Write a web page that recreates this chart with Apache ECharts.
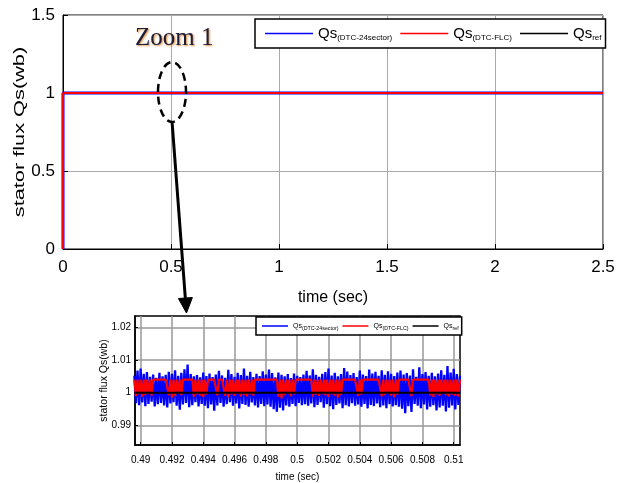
<!DOCTYPE html>
<html>
<head>
<meta charset="utf-8">
<script src="https://cdn.jsdelivr.net/npm/echarts@6/dist/echarts.min.js"></script>
<style>html,body{margin:0;padding:0;background:#fff;}#c{width:627px;height:483px;}</style>
</head>
<body>
<div id="c"></div>
<script>
// ---------- DATA ----------
// Main chart (0 .. 2.5 s)
const mainTime = [0, 0, 2.5];
const mainBlue = [0, 1, 1];
const mainRed  = [0, 1, 1];
const mainRef  = [1, 1, 1];
const mainXTicks = [0, 0.5, 1, 1.5, 2, 2.5];
const mainYTicks = [0, 0.5, 1, 1.5];

// Zoom inset (0.4896 .. 0.5104 s, sampled every 0.0001 s)
const insetStart = 0.4896;
const insetStep = 0.0001;
const insetBlue = [
  1.0052,0.9968,1.0068,0.9962,1.0074,0.9970,1.0058,0.9959,1.0063,0.9966,
  1.0049,0.9973,1.0056,0.9958,1.0046,0.9965,1.0061,0.9969,1.0050,0.9961,
  1.0055,0.9955,1.0064,0.9967,1.0058,0.9971,1.0069,0.9960,1.0052,0.9948,
  1.0061,0.9964,1.0072,0.9969,1.0086,0.9956,1.0057,0.9962,1.0050,0.9971,
  1.0054,0.9958,1.0047,0.9966,1.0062,0.9960,1.0051,0.9953,1.0059,0.9964,
  1.0048,0.9945,1.0056,0.9961,1.0067,0.9969,1.0053,0.9957,1.0046,0.9965,
  1.0070,0.9971,1.0057,0.9960,1.0049,0.9967,1.0061,0.9952,1.0054,0.9966,
  1.0074,0.9963,1.0052,0.9957,1.0064,0.9970,1.0048,0.9961,1.0058,0.9955,
  1.0051,0.9966,1.0066,0.9959,1.0056,0.9964,1.0071,0.9957,1.0060,0.9950,
  1.0047,0.9942,1.0062,0.9954,1.0055,0.9946,1.0050,0.9961,1.0057,0.9957,
  1.0045,0.9966,1.0059,0.9959,1.0052,0.9969,1.0048,0.9962,1.0056,0.9965,
  1.0067,0.9960,1.0053,0.9967,1.0072,0.9956,1.0055,0.9963,1.0049,0.9971,
  1.0058,0.9954,1.0063,0.9965,1.0074,0.9959,1.0053,0.9950,1.0061,0.9963,
  1.0050,0.9967,1.0057,0.9953,1.0076,0.9962,1.0065,0.9958,1.0054,0.9968,
  1.0060,0.9960,1.0048,0.9964,1.0068,0.9957,1.0056,0.9966,1.0051,0.9952,
  1.0071,0.9963,1.0059,0.9959,1.0064,0.9967,1.0052,0.9956,1.0069,0.9961,
  1.0055,0.9953,1.0066,0.9965,1.0058,0.9958,1.0051,0.9962,1.0062,0.9957,
  1.0068,0.9951,1.0056,0.9937,1.0060,0.9959,1.0053,0.9941,1.0072,0.9966,
  1.0049,0.9960,1.0078,0.9953,1.0057,0.9964,1.0063,0.9949,1.0052,0.9957,
  1.0061,0.9962,1.0050,0.9946,1.0059,0.9955,1.0069,0.9960,1.0055,0.9943,
  1.0082,0.9954,1.0062,0.9961,1.0073,0.9949,1.0057,0.9963,1.0052
];
const insetRed = [
  1.0040,0.9990,1.0040,0.9995,1.0040,0.9988,1.0040,0.9993,1.0040,0.9997,1.0040,0.9991,1.0040,
  1.0040,1.0040,1.0040,1.0040,1.0040,1.0040,1.0040,1.0040,1.0040,
  0.9992,1.0040,0.9985,1.0040,0.9990,1.0040,0.9997,1.0040,0.9993,1.0040,
  1.0040,1.0040,1.0040,1.0040,1.0040,1.0040,
  0.9988,1.0040,0.9995,1.0040,0.9991,1.0040,0.9987,1.0040,0.9994,1.0040,
  1.0040,1.0040,1.0040,1.0040,1.0040,
  0.9992,
  1.0040,1.0040,1.0040,1.0040,
  0.9991,1.0040,0.9986,1.0040,0.9994,1.0040,0.9990,1.0040,0.9996,1.0040,
  0.9988,1.0040,0.9993,1.0040,0.9989,1.0040,0.9995,1.0040,0.9991,1.0040,
  1.0040,1.0040,1.0040,1.0040,1.0040,1.0040,1.0040,1.0040,1.0040,1.0040,1.0040,1.0040,1.0040,1.0040,
  0.9988,1.0040,0.9983,1.0040,0.9992,1.0040,0.9996,1.0040,0.9989,1.0040,0.9995,1.0040,
  1.0040,1.0040,1.0040,1.0040,1.0040,1.0040,1.0040,1.0040,1.0040,1.0040,
  0.9988,1.0040,0.9994,1.0040,0.9990,1.0040,0.9996,1.0040,0.9992,1.0040,
  0.9987,1.0040,0.9995,1.0040,0.9991,1.0040,0.9985,1.0040,0.9993,1.0040,
  1.0040,1.0040,1.0040,1.0040,1.0040,1.0040,1.0040,1.0040,1.0040,
  0.9990,1.0040,0.9994,1.0040,
  1.0040,1.0040,1.0040,1.0040,1.0040,1.0040,1.0040,1.0040,1.0040,1.0040,1.0040,
  0.9989,1.0040,0.9993,1.0040,0.9997,1.0040,0.9991,1.0040,0.9986,1.0040,0.9994,1.0040,
  1.0040,1.0040,1.0040,1.0040,1.0040,1.0040,1.0040,
  0.9990,1.0040,
  1.0040,1.0040,1.0040,1.0040,1.0040,1.0040,1.0040,1.0040,1.0040,1.0040,
  0.9992,1.0040,0.9987,1.0040,0.9995,1.0040,0.9991,1.0040,0.9997,1.0040,
  0.9993,1.0040,0.9989,1.0040,0.9994,1.0040,0.9990,1.0040,0.9988,1.0040
];
const insetRefValue = 1;
const insetXTicks = [0.49, 0.492, 0.494, 0.496, 0.498, 0.5, 0.502, 0.504, 0.506, 0.508, 0.51];
const insetYTicks = [0.99, 1, 1.01, 1.02];

const legendNames = ['Qs_24', 'Qs_FLC', 'Qs_ref'];
const legendSubs = { 'Qs_24': '(DTC-24sector)', 'Qs_FLC': '(DTC-FLC)', 'Qs_ref': 'ref' };
const insetLegendNames = ['iQs_24', 'iQs_FLC', 'iQs_ref'];

// ---------- BUILD ----------
const insetTime = insetBlue.map((_, i) => +(insetStart + i * insetStep).toFixed(4));
const zip = (xs, ys) => xs.map((x, i) => [x, ys[i]]);
const FONT = '"Liberation Sans", Arial, sans-serif';

const chart = echarts.init(document.getElementById('c'), null, { renderer: 'canvas' });

function legendFmt(name) {
  const key = name.replace(/^i/, '');
  return '{m|Qs}{s|' + legendSubs[key] + '}';
}

const option = {
  animation: false,
  backgroundColor: '#fff',
  grid: [
    { left: 63, top: 15, width: 540, height: 234, show: true, borderColor: '#000', borderWidth: 1, backgroundColor: 'transparent' },
    { left: 135, top: 316, width: 325, height: 133, show: true, borderColor: '#000', borderWidth: 1.5, backgroundColor: 'transparent' }
  ],
  xAxis: [
    {
      gridIndex: 0, type: 'value', min: 0, max: 2.5, interval: 0.5,
      name: 'time (sec)', nameLocation: 'middle', nameGap: 41, nameMoveOverlap: false,
      nameTextStyle: { fontFamily: FONT, fontSize: 16, color: '#000' },
      axisLine: { show: true, onZero: false, lineStyle: { color: '#000', width: 1 } },
      axisTick: { show: true, inside: true, length: 5, lineStyle: { color: '#000' } },
      axisLabel: { fontFamily: FONT, fontSize: 17, color: '#000', margin: 10, customValues: mainXTicks },
      splitLine: { show: true, lineStyle: { color: '#aaa', width: 1 } }
    },
    {
      gridIndex: 1, type: 'value', min: 0.48964, max: 0.5104,
      name: 'time (sec)', nameLocation: 'middle', nameGap: 27, nameMoveOverlap: false,
      nameTextStyle: { fontFamily: FONT, fontSize: 10, color: '#000' },
      axisLine: { show: true, onZero: false, lineStyle: { color: '#000', width: 1.5 } },
      axisTick: { show: true, inside: true, length: 3, customValues: insetXTicks, lineStyle: { color: '#000' } },
      axisLabel: { fontFamily: FONT, fontSize: 10, color: '#000', margin: 10, customValues: insetXTicks },
      splitLine: { show: true, lineStyle: { color: '#999', width: 1.5 } }
    }
  ],
  yAxis: [
    {
      gridIndex: 0, type: 'value', min: 0, max: 1.5, interval: 0.5,
      axisLine: { show: true, onZero: false, lineStyle: { color: '#000', width: 1 } },
      axisTick: { show: true, inside: true, length: 5, lineStyle: { color: '#000' } },
      axisLabel: { fontFamily: FONT, fontSize: 17, color: '#000', margin: 8, customValues: mainYTicks },
      splitLine: { show: true, lineStyle: { color: '#aaa', width: 1 } }
    },
    {
      gridIndex: 1, type: 'value', min: 0.984, max: 1.0235,
      name: 'stator flux Qs(wb)', nameLocation: 'middle', nameGap: 25, nameMoveOverlap: false,
      nameTextStyle: { fontFamily: FONT, fontSize: 10.5, color: '#000' },
      axisLine: { show: true, onZero: false, lineStyle: { color: '#000', width: 1.5 } },
      axisTick: { show: true, inside: true, length: 3, customValues: insetYTicks, lineStyle: { color: '#000' } },
      axisLabel: { fontFamily: FONT, fontSize: 10, color: '#000', margin: 4, customValues: insetYTicks },
      splitLine: { show: true, lineStyle: { color: '#999', width: 1.5 } }
    }
  ],
  legend: [
    {
      data: legendNames, left: 255, top: 19, orient: 'horizontal',
      backgroundColor: '#fff', borderColor: '#000', borderWidth: 1.5, borderRadius: 0,
      padding: [6, 4, 6, 10], itemGap: 8, itemWidth: 48, itemHeight: 1.5, icon: 'rect',
      formatter: legendFmt,
      textStyle: {
        color: '#000', fontFamily: FONT,
        rich: {
          m: { fontSize: 15, fontFamily: FONT, color: '#000', lineHeight: 20 },
          s: { fontSize: 8, fontFamily: FONT, color: '#000', padding: [9, 0, 0, 0], lineHeight: 20 }
        }
      }
    },
    {
      data: insetLegendNames, left: 256, top: 317, orient: 'horizontal',
      backgroundColor: '#fff', borderColor: '#000', borderWidth: 1.5, borderRadius: 0,
      padding: [4, 3, 4, 6], itemGap: 4, itemWidth: 26, itemHeight: 1.5, icon: 'rect',
      formatter: legendFmt,
      textStyle: {
        color: '#000', fontFamily: FONT,
        rich: {
          m: { fontSize: 7, fontFamily: FONT, color: '#000', lineHeight: 13 },
          s: { fontSize: 5.3, fontFamily: FONT, color: '#000', padding: [5, 0, 0, 0], lineHeight: 13 }
        }
      }
    }
  ],
  series: [
    { name: 'Qs_ref', type: 'line', xAxisIndex: 0, yAxisIndex: 0, data: zip(mainTime, mainRef), showSymbol: false, lineStyle: { color: '#000', width: 1 }, itemStyle: { color: '#000' }, z: 2 },
    { name: 'Qs_24', type: 'line', xAxisIndex: 0, yAxisIndex: 0, data: zip(mainTime, mainBlue), showSymbol: false, lineStyle: { color: '#0000ff', width: 3 }, itemStyle: { color: '#0000ff' }, z: 3 },
    { name: 'Qs_FLC', type: 'line', xAxisIndex: 0, yAxisIndex: 0, data: zip(mainTime, mainRed), showSymbol: false, lineStyle: { color: '#ff0000', width: 2 }, itemStyle: { color: '#ff0000' }, z: 4 },

    { name: 'iQs_24', type: 'line', xAxisIndex: 1, yAxisIndex: 1, data: zip(insetTime, insetBlue), showSymbol: false, lineStyle: { color: '#0000ff', width: 2.3 }, itemStyle: { color: '#0000ff' }, z: 3 },
    { name: 'iQs_FLC', type: 'line', xAxisIndex: 1, yAxisIndex: 1, data: zip(insetTime, insetRed), showSymbol: false, lineStyle: { color: '#ff0000', width: 2.2 }, itemStyle: { color: '#ff0000' }, z: 4 },
    { name: 'iQs_ref', type: 'line', xAxisIndex: 1, yAxisIndex: 1, data: [[0.4896, insetRefValue], [0.5104, insetRefValue]], showSymbol: false, lineStyle: { color: '#000', width: 2 }, itemStyle: { color: '#000' }, z: 5 }
  ]
};
chart.setOption(option);

// annotations: y-axis title of the main plot, "Zoom 1" label, dashed ellipse, arrow to inset
const c = chart.convertToPixel({ gridIndex: 0 }, [0.5, 1]);
chart.setOption({
  graphic: [
    { type: 'text', x: 20, y: 132, rotation: Math.PI / 2, scaleX: 1.45, z: 20,
      style: { text: 'stator flux Qs(wb)', font: '15px "Liberation Sans", Arial, sans-serif', fill: '#000', align: 'center', verticalAlign: 'middle' } },
    { type: 'text', left: 135, top: 26, z: 20,
      style: { text: 'Zoom 1', font: '25px "Liberation Serif", "Times New Roman", serif', fill: '#1d1d3a',
               textShadowColor: 'rgba(220,130,40,0.95)', textShadowBlur: 2, textShadowOffsetX: 1, textShadowOffsetY: 1 } },
    { type: 'ellipse', z: 20, shape: { cx: c[0] + 1, cy: c[1] - 1, rx: 14, ry: 30 },
      style: { fill: 'none', stroke: '#000', lineWidth: 2.5, lineDash: [8, 5] } },
    { type: 'line', z: 20, shape: { x1: 172, y1: 121, x2: 185.4, y2: 299 },
      style: { stroke: '#000', lineWidth: 3 } },
    { type: 'polygon', z: 20, shape: { points: [[186.5, 313], [192.4, 297.5], [178.4, 298.5]] },
      style: { fill: '#000', stroke: '#000', lineWidth: 1 } }
  ]
});
</script>
</body>
</html>
